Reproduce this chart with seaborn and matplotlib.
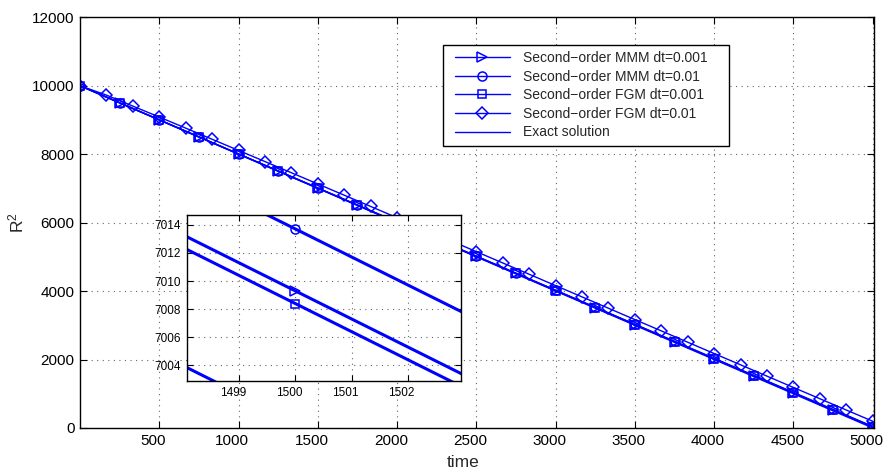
import matplotlib
matplotlib.use("Agg")
import matplotlib.pyplot as plt
import matplotlib.transforms as mtransforms
from matplotlib.lines import Line2D
from matplotlib.legend_handler import HandlerLine2D
import seaborn as sns

# time samples (every 250) for the MMM / FGM dt=0.001 runs and the exact solution
t_coarse = [0, 250, 500, 750, 1000, 1250, 1500, 1750, 2000, 2250, 2500,
            2750, 3000, 3250, 3500, 3750, 4000, 4250, 4500, 4750, 5000]

r2_exact = [10000, 9500, 9000, 8500, 8000, 7500, 7000, 6500, 6000, 5500, 5000,
            4500, 4000, 3500, 3000, 2500, 2000, 1500, 1000, 500, 0]

r2_mmm_001 = [10000.0, 9501.6, 9003.1, 8504.7, 8006.2, 7507.8, 7009.3, 6510.9,
              6012.4, 5514.0, 5015.5, 4517.1, 4018.6, 3520.2, 3021.7, 2523.3,
              2024.8, 1526.4, 1027.9, 529.5, 31.0]

r2_mmm_01 = [10000.0, 9502.3, 9004.6, 8506.8, 8009.1, 7511.4, 7013.7, 6516.0,
             6018.2, 5520.5, 5022.8, 4525.1, 4027.4, 3529.6, 3031.9, 2534.2,
             2036.5, 1538.8, 1041.0, 543.3, 45.6]

r2_fgm_001 = [10000.0, 9501.4, 9002.8, 8504.2, 8005.6, 7507.0, 7008.4, 6509.8,
              6011.2, 5512.6, 5014.0, 4515.3, 4016.7, 3518.1, 3019.5, 2520.9,
              2022.3, 1523.7, 1025.1, 526.5, 27.9]

# FGM dt=0.01 run, sampled every 5000/30
t_fgm_01 = [0, 166.7, 333.3, 500, 666.7, 833.3, 1000, 1166.7, 1333.3, 1500,
            1666.7, 1833.3, 2000, 2166.7, 2333.3, 2500, 2666.7, 2833.3, 3000,
            3166.7, 3333.3, 3500, 3666.7, 3833.3, 4000, 4166.7, 4333.3, 4500,
            4666.7, 4833.3, 5000]
r2_fgm_01 = [10000, 9726.7, 9405.3, 9085, 8761.7, 8436.3, 8110, 7784.7, 7458.3,
             7130, 6801.7, 6473.3, 6143, 5812.7, 5482.3, 5152, 4821.7, 4491.3,
             4160, 3829.7, 3498.3, 3167, 2836.7, 2505.3, 2175, 1844.7, 1514.3,
             1184, 854.7, 525.3, 197]

labels = ["Second\u2212order MMM dt=0.001",
          "Second\u2212order MMM dt=0.01",
          "Second\u2212order FGM dt=0.001",
          "Second\u2212order FGM dt=0.01",
          "Exact solution"]

main_xticks = [500, 1000, 1500, 2000, 2500, 3000, 3500, 4000, 4500, 5000]
main_yticks = [0, 2000, 4000, 6000, 8000, 10000, 12000]
inset_xticks = [1499, 1500, 1501, 1502]
inset_yticks = [7004, 7006, 7008, 7010, 7012, 7014]

sns.set_theme(style="white")
plt.rcParams["font.family"] = ["Liberation Sans", "DejaVu Sans"]
plt.rcParams["mathtext.fontset"] = "custom"
plt.rcParams["mathtext.rm"] = "Liberation Sans"
plt.rcParams["mathtext.it"] = "Liberation Sans"

BLUE = "#0000ff"
GRID = dict(color="#666666", linestyle=(0, (1, 4)), linewidth=0.8)


def draw_series(ax, lw, with_labels):
    specs = [
        (t_coarse, r2_mmm_001, ">", 6.5),
        (t_coarse, r2_mmm_01, "o", 6.5),
        (t_coarse, r2_fgm_001, "s", 5.5),
        (t_fgm_01, r2_fgm_01, "D", 6.0),
    ]
    for (x, y, mk, ms), lab in zip(specs, labels[:4]):
        kw = dict(label=lab) if with_labels else {}
        sns.lineplot(x=x, y=y, ax=ax, color=BLUE, lw=lw, marker=mk,
                     markersize=ms, mfc="none", mec=BLUE, mew=1.1,
                     legend=False, **kw)
    kw = dict(label=labels[4]) if with_labels else {}
    sns.lineplot(x=t_coarse, y=r2_exact, ax=ax, color=BLUE, lw=lw,
                 legend=False, **kw)


def style_axes(ax, labelsize):
    ax.grid(True, **GRID)
    ax.set_axisbelow(True)
    for s in ax.spines.values():
        s.set_visible(True)
        s.set_color("black")
        s.set_linewidth(1.0)
    ax.tick_params(direction="in", length=5, width=0.8, colors="black",
                   labelsize=labelsize, top=True, right=True,
                   bottom=True, left=True, pad=4)
    ax.set_facecolor("white")


fig = plt.figure(figsize=(8.86, 4.70), dpi=100)
ax = fig.add_axes([0.0903, 0.0894, 0.8956, 0.8738])
draw_series(ax, 1.0, True)
style_axes(ax, 11)
ax.set_xlim(0.001, 5005)
ax.set_ylim(0, 12000)
ax.set_xticks(main_xticks)
ax.set_yticks(main_yticks)
ax.set_xlabel("time", fontsize=12.5, labelpad=5.5)
ax.xaxis.label.set_x(0.4827)
ax.set_ylabel("R$^2$", fontsize=12.5, labelpad=4)

leg = ax.legend(loc="upper left", bbox_to_anchor=(0.458, 0.5, 0.3604, 0.433),
                mode="expand", borderaxespad=0, fontsize=10, frameon=True,
                fancybox=False, edgecolor="black", framealpha=1,
                handlelength=4.31, handletextpad=1.0, labelspacing=0.33,
                borderpad=0.45,
                handler_map={Line2D: HandlerLine2D(xpad=0.41)})
leg.get_frame().set_linewidth(1.0)

ins = fig.add_axes([0.2107, 0.1894, 0.3093, 0.3526])
draw_series(ins, 2.2, False)
style_axes(ins, 8.5)
ins.set_xlim(1498.07, 1502.94)
ins.set_ylim(7002.9, 7014.67)
ins.set_xticks(inset_xticks)
ins.set_yticks(inset_yticks)
ins.set_xlabel("")
ins.set_ylabel("")
ins.tick_params(length=4)

# x tick labels sit a few pixels left of their ticks
fig.canvas.draw()
shift = mtransforms.ScaledTranslation(-4.5 / 72, 0, fig.dpi_scale_trans)
for a in (ax, ins):
    for tk in a.xaxis.get_major_ticks():
        tk.label1.set_transform(tk.label1.get_transform() + shift)

fig.savefig("out.png", dpi=100)
